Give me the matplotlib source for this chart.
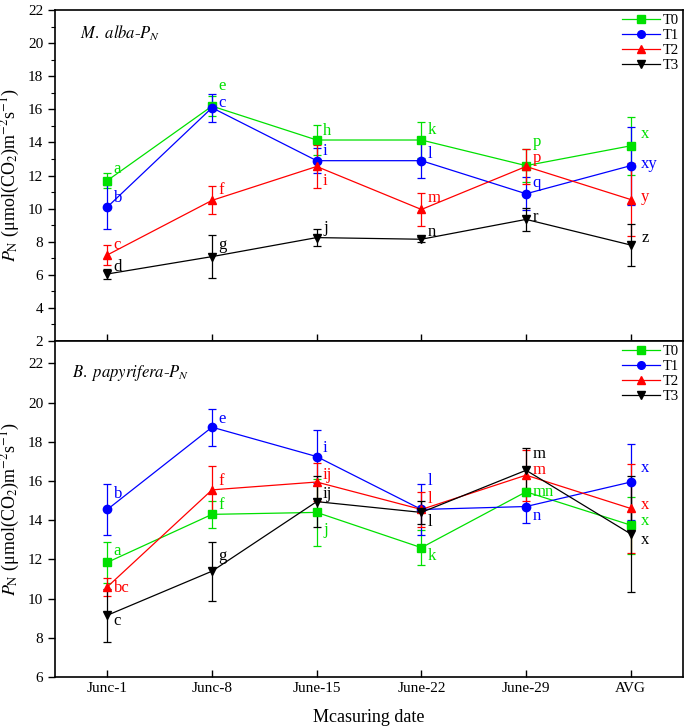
import matplotlib
matplotlib.use("Agg")
import matplotlib.pyplot as plt
from matplotlib.ticker import MultipleLocator
from matplotlib.lines import Line2D
import numpy as np

plt.rcParams['font.family'] = ['Liberation Serif', 'DejaVu Sans']
plt.rcParams['mathtext.fontset'] = 'stix'

dates = ["Junc-1", "Junc-8", "June-15", "June-22", "June-29", "AVG"]
series = ["T0", "T1", "T2", "T3"]
colors = ["#00e000", "#0000ff", "#ff0000", "#000000"]
markers = ["s", "o", "^", "v"]

# M. alba
alba_mean = [
    [11.7, 16.2, 14.15, 14.15, 12.6, 13.8],
    [10.1, 16.1, 12.9, 12.9, 10.9, 12.6],
    [7.2, 10.5, 12.55, 9.95, 12.55, 10.55],
    [6.05, 7.1, 8.25, 8.15, 9.35, 7.8],
]
alba_err = [
    [0.45, 0.6, 0.9, 1.1, 1.0, 1.75],
    [1.35, 0.85, 0.75, 1.05, 1.0, 2.35],
    [0.6, 0.85, 1.3, 1.0, 1.05, 2.2],
    [0.3, 1.3, 0.5, 0.15, 0.7, 1.25],
]
alba_letters = [
    ["a", "e", "h", "k", "p", "x"],
    ["b", "c", "i", "l", "q", "xy"],
    ["c", "f", "i", "m", "p", "y"],
    ["d", "g", "j", "n", "r", "z"],
]
alba_letter_y = [
    [12.4, 17.4, 14.7, 14.75, 14.05, 14.5],
    [10.65, 16.4, 13.5, 13.3, 11.55, 12.7],
    [7.8, 11.1, 11.7, 10.65, 13.05, 10.7],
    [6.45, 7.8, 8.8, 8.6, 9.5, 8.2],
]

# B. papyrifera
pap_mean = [
    [11.85, 14.3, 14.4, 12.6, 15.45, 13.75],
    [14.55, 18.75, 17.25, 14.55, 14.7, 15.95],
    [10.6, 15.55, 15.95, 14.55, 16.3, 14.6],
    [9.15, 11.4, 14.95, 14.4, 16.55, 13.3],
]
pap_err = [
    [1.05, 0.68, 1.7, 0.9, 0.2, 1.45],
    [1.3, 0.95, 1.35, 1.3, 0.85, 1.95],
    [0.45, 1.2, 0.95, 0.9, 1.3, 2.25],
    [1.35, 1.5, 1.3, 0.6, 1.15, 2.95],
]
pap_letters = [
    ["a", "f", "j", "k", "mn", "x"],
    ["b", "e", "i", "l", "n", "x"],
    ["bc", "f", "ij", "l", "m", "x"],
    ["c", "g", "ij", "l", "m", "x"],
]
pap_letter_y = [
    [12.45, 14.8, 13.5, 12.15, 15.45, 13.95],
    [15.35, 19.15, 17.7, 16.0, 14.2, 16.65],
    [10.55, 16.0, 16.3, 15.1, 16.55, 14.8],
    [8.85, 12.2, 15.35, 13.9, 17.4, 13.0],
]

x = np.arange(len(dates))

fig = plt.figure(figsize=(6.9, 7.27), dpi=100)
ax1 = fig.add_axes([0.0797, 0.531, 0.9103, 0.455])
ax2 = fig.add_axes([0.0797, 0.0688, 0.9103, 0.4622])


def draw(ax, mean, err, letters, letter_y):
    handles = []
    for i in range(4):
        ax.errorbar(x, mean[i], yerr=err[i], color=colors[i], marker=markers[i],
                    markersize=6, lw=0.9, elinewidth=0.9, capsize=3, capthick=0.9)
        handles.append(Line2D([], [], color=colors[i], marker=markers[i],
                              markersize=5.5, lw=0.9, label=series[i]))
        for j in range(len(dates)):
            dx = 0.1 if j == 5 else 0.06
            ax.text(x[j] + dx, letter_y[i][j], letters[i][j], color=colors[i],
                    fontsize=12, ha="left", va="center")
    ax.set_xlim(-0.5, 5.5)
    ax.set_xticks(x)
    ax.tick_params(axis="x", direction="in", length=5, width=1, labelsize=11)
    ax.tick_params(axis="y", direction="out", length=5, width=1, labelsize=11)
    for s in ax.spines.values():
        s.set_linewidth(1.2)
    ax.set_ylabel(r"$P_{\rm N}$ (μmol(CO$_2$)m$^{-2}$s$^{-1}$)", fontsize=13, labelpad=4)
    ax.legend(handles=handles, loc="upper right", frameon=False, fontsize=10.5,
              handlelength=2.6, handletextpad=0.2, labelspacing=0.12,
              borderaxespad=0.05, borderpad=0.2)


draw(ax1, alba_mean, alba_err, alba_letters, alba_letter_y)
ax1.set_ylim(2, 22)
ax1.yaxis.set_major_locator(MultipleLocator(2))
ax1.yaxis.set_minor_locator(MultipleLocator(1))
ax1.tick_params(axis="y", which="minor", direction="out", length=3, width=0.8)
ax1.tick_params(axis="x", labelbottom=False)
ax1.text(0.04, 0.93, r"$M.\ alba$-$P_N$", transform=ax1.transAxes, fontsize=12,
         va="center")

draw(ax2, pap_mean, pap_err, pap_letters, pap_letter_y)
ax2.set_ylim(6, 23.15)
ax2.set_yticks(np.arange(6, 23, 2))
ax2.set_xticklabels(dates)
ax2.set_xlabel("Mcasuring date", fontsize=13, labelpad=10)
ax2.text(0.027, 0.905, r"$B.\ papyrifera$-$P_N$", transform=ax2.transAxes,
         fontsize=12, va="center")

fig.savefig("out.png", dpi=100)
